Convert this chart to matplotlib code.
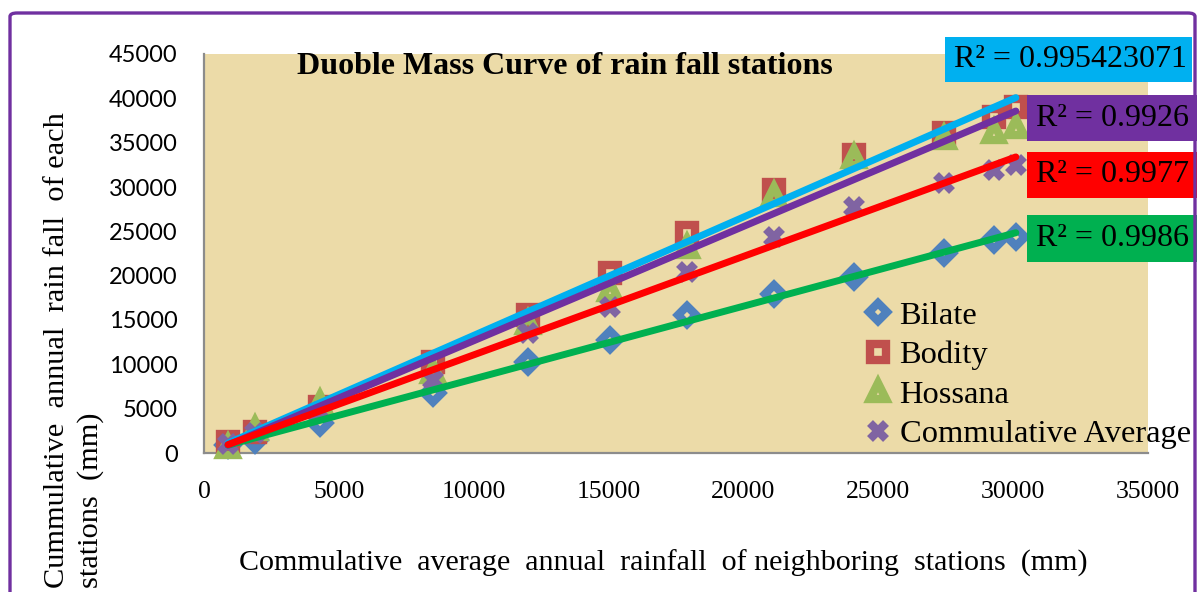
import numpy as np
import matplotlib
matplotlib.use("Agg")
import matplotlib.pyplot as plt
from matplotlib.patches import Rectangle, FancyBboxPatch

# ---- data ----
cum_neighbor = [890, 1890, 4300, 8480, 12000, 15040, 17890, 21150, 24100, 27440, 29300, 30100]
bilate = [900, 1500, 3380, 6770, 10260, 12740, 15560, 17900, 19850, 22550, 24020, 24360]
bodity = [1240, 2400, 5190, 10260, 15560, 20300, 24800, 29660, 33600, 36090, 37900, 39020]
hossana = [700, 2700, 5640, 9140, 14660, 18380, 23230, 29100, 33380, 35520, 36200, 36770]
cum_average = [1000, 2200, 4620, 8230, 13530, 16470, 20410, 24360, 27740, 30450, 31920, 32480]

series_names = ["Bilate", "Bodity", "Hossana", "Commulative Average"]
r2_labels = ["R\u00b2 = 0.9986", "R\u00b2 = 0.995423071", "R\u00b2 = 0.9926", "R\u00b2 = 0.9977"]
x_ticks = [0, 5000, 10000, 15000, 20000, 25000, 30000, 35000]
y_ticks = [0, 5000, 10000, 15000, 20000, 25000, 30000, 35000, 40000, 45000]

W, H = 1197, 592
SERIF = "Liberation Serif"

fig = plt.figure(figsize=(W / 100, H / 100), dpi=100)
fig.patch.set_facecolor("white")

def fx(px):
    return px / W

def fy(py):
    return 1 - py / H

ax = fig.add_axes([fx(204), fy(453), fx(1148) - fx(204), fy(54) - fy(453)])
ax.set_facecolor("#ECDBA8")
ax.set_xlim(0, 35000)
ax.set_ylim(0, 45000)
ax.set_xticks(x_ticks)
ax.set_yticks(y_ticks)
ax.set_xticklabels([str(t) for t in x_ticks], fontfamily=SERIF, fontsize=18.5)
ax.set_yticklabels([str(t) for t in y_ticks], fontfamily="Lato", fontsize=17)
ax.tick_params(axis="x", length=0, pad=20)
ax.tick_params(axis="y", length=0, pad=19)
for side in ["top", "right"]:
    ax.spines[side].set_visible(False)
for side in ["left", "bottom"]:
    ax.spines[side].set_color("#8C8C8C")
    ax.spines[side].set_linewidth(1.6)

series = [bilate, bodity, hossana, cum_average]
marker_styles = [
    dict(marker="D", color="#4F81BD", ms=9.5, mew=6),
    dict(marker="s", color="#C0504D", ms=11, mew=6),
    dict(marker="^", color="#9BBB59", ms=11, mew=6),
    dict(marker="x", color="#8064A2", ms=11, mew=6),
]
trend_colors = ["#00B050", "#00B0F0", "#7030A0", "#FF0000"]

handles = []
for name, ys, st in zip(series_names, series, marker_styles):
    h, = ax.plot(cum_neighbor, ys, linestyle="none", marker=st["marker"],
                 markersize=st["ms"], markeredgewidth=st["mew"],
                 markeredgecolor=st["color"], markerfacecolor="none",
                 label=name, zorder=3, clip_on=False)
    handles.append(h)

xs = np.array(cum_neighbor, dtype=float)
for ys, col in zip(series, trend_colors):
    k, b = np.polyfit(xs, np.array(ys, dtype=float), 1)
    xl = np.array([xs.min(), xs.max()])
    ax.plot(xl, k * xl + b, color=col, lw=5.0, solid_capstyle="round", zorder=4)

# title inside plot
fig.text(fx(297), fy(67), "Duoble Mass Curve of rain fall stations", fontfamily=SERIF,
         fontweight="bold", fontsize=23, ha="left", va="center")

# legend
leg = ax.legend(handles=handles, loc="upper left", bbox_to_anchor=(fx(867), fy(301)),
                bbox_transform=fig.transFigure, frameon=False, prop={"family": SERIF, "size": 23.4},
                handlelength=0.7, handletextpad=0.3, borderpad=0, borderaxespad=0,
                labelspacing=0.3)

# axis labels
fig.text(fx(663), fy(563),
         "Commulative  average  annual  rainfall  of neighboring  stations  (mm)",
         fontfamily=SERIF, fontsize=21.6, ha="center", va="center")
fig.text(fx(74), fy(588), "Cummulative  annual  rain fall  of each\nstations  (mm)",
         fontfamily=SERIF, fontsize=21.9, rotation=90, ha="center", va="bottom",
         multialignment="left", linespacing=1.33)

# R² boxes: (left, top, right, bottom) in pixels, color
r2_boxes = [
    (1027, 215, 1197, 262),
    (945, 37, 1192, 82),
    (1027, 95, 1197, 141),
    (1027, 152, 1197, 198),
]
for (l, t, r, bt), col, lab in zip(r2_boxes, trend_colors, r2_labels):
    fig.patches.append(Rectangle((fx(l), fy(bt)), fx(r) - fx(l), fy(t) - fy(bt),
                                 transform=fig.transFigure, facecolor=col, edgecolor="none",
                                 zorder=5))
    fig.text(fx(l + 9), (fy(t) + fy(bt)) / 2, lab, fontfamily=SERIF, fontsize=23,
             ha="left", va="center", color="black", zorder=6)

# outer purple border
fig.patches.append(FancyBboxPatch((fx(10), fy(640)), fx(1195) - fx(10), fy(13) - fy(640),
                                  boxstyle="round,pad=0,rounding_size=0.006",
                                  transform=fig.transFigure, facecolor="none",
                                  edgecolor="#7030A0", lw=2.4, zorder=7))

fig.savefig("out.png", dpi=100)
